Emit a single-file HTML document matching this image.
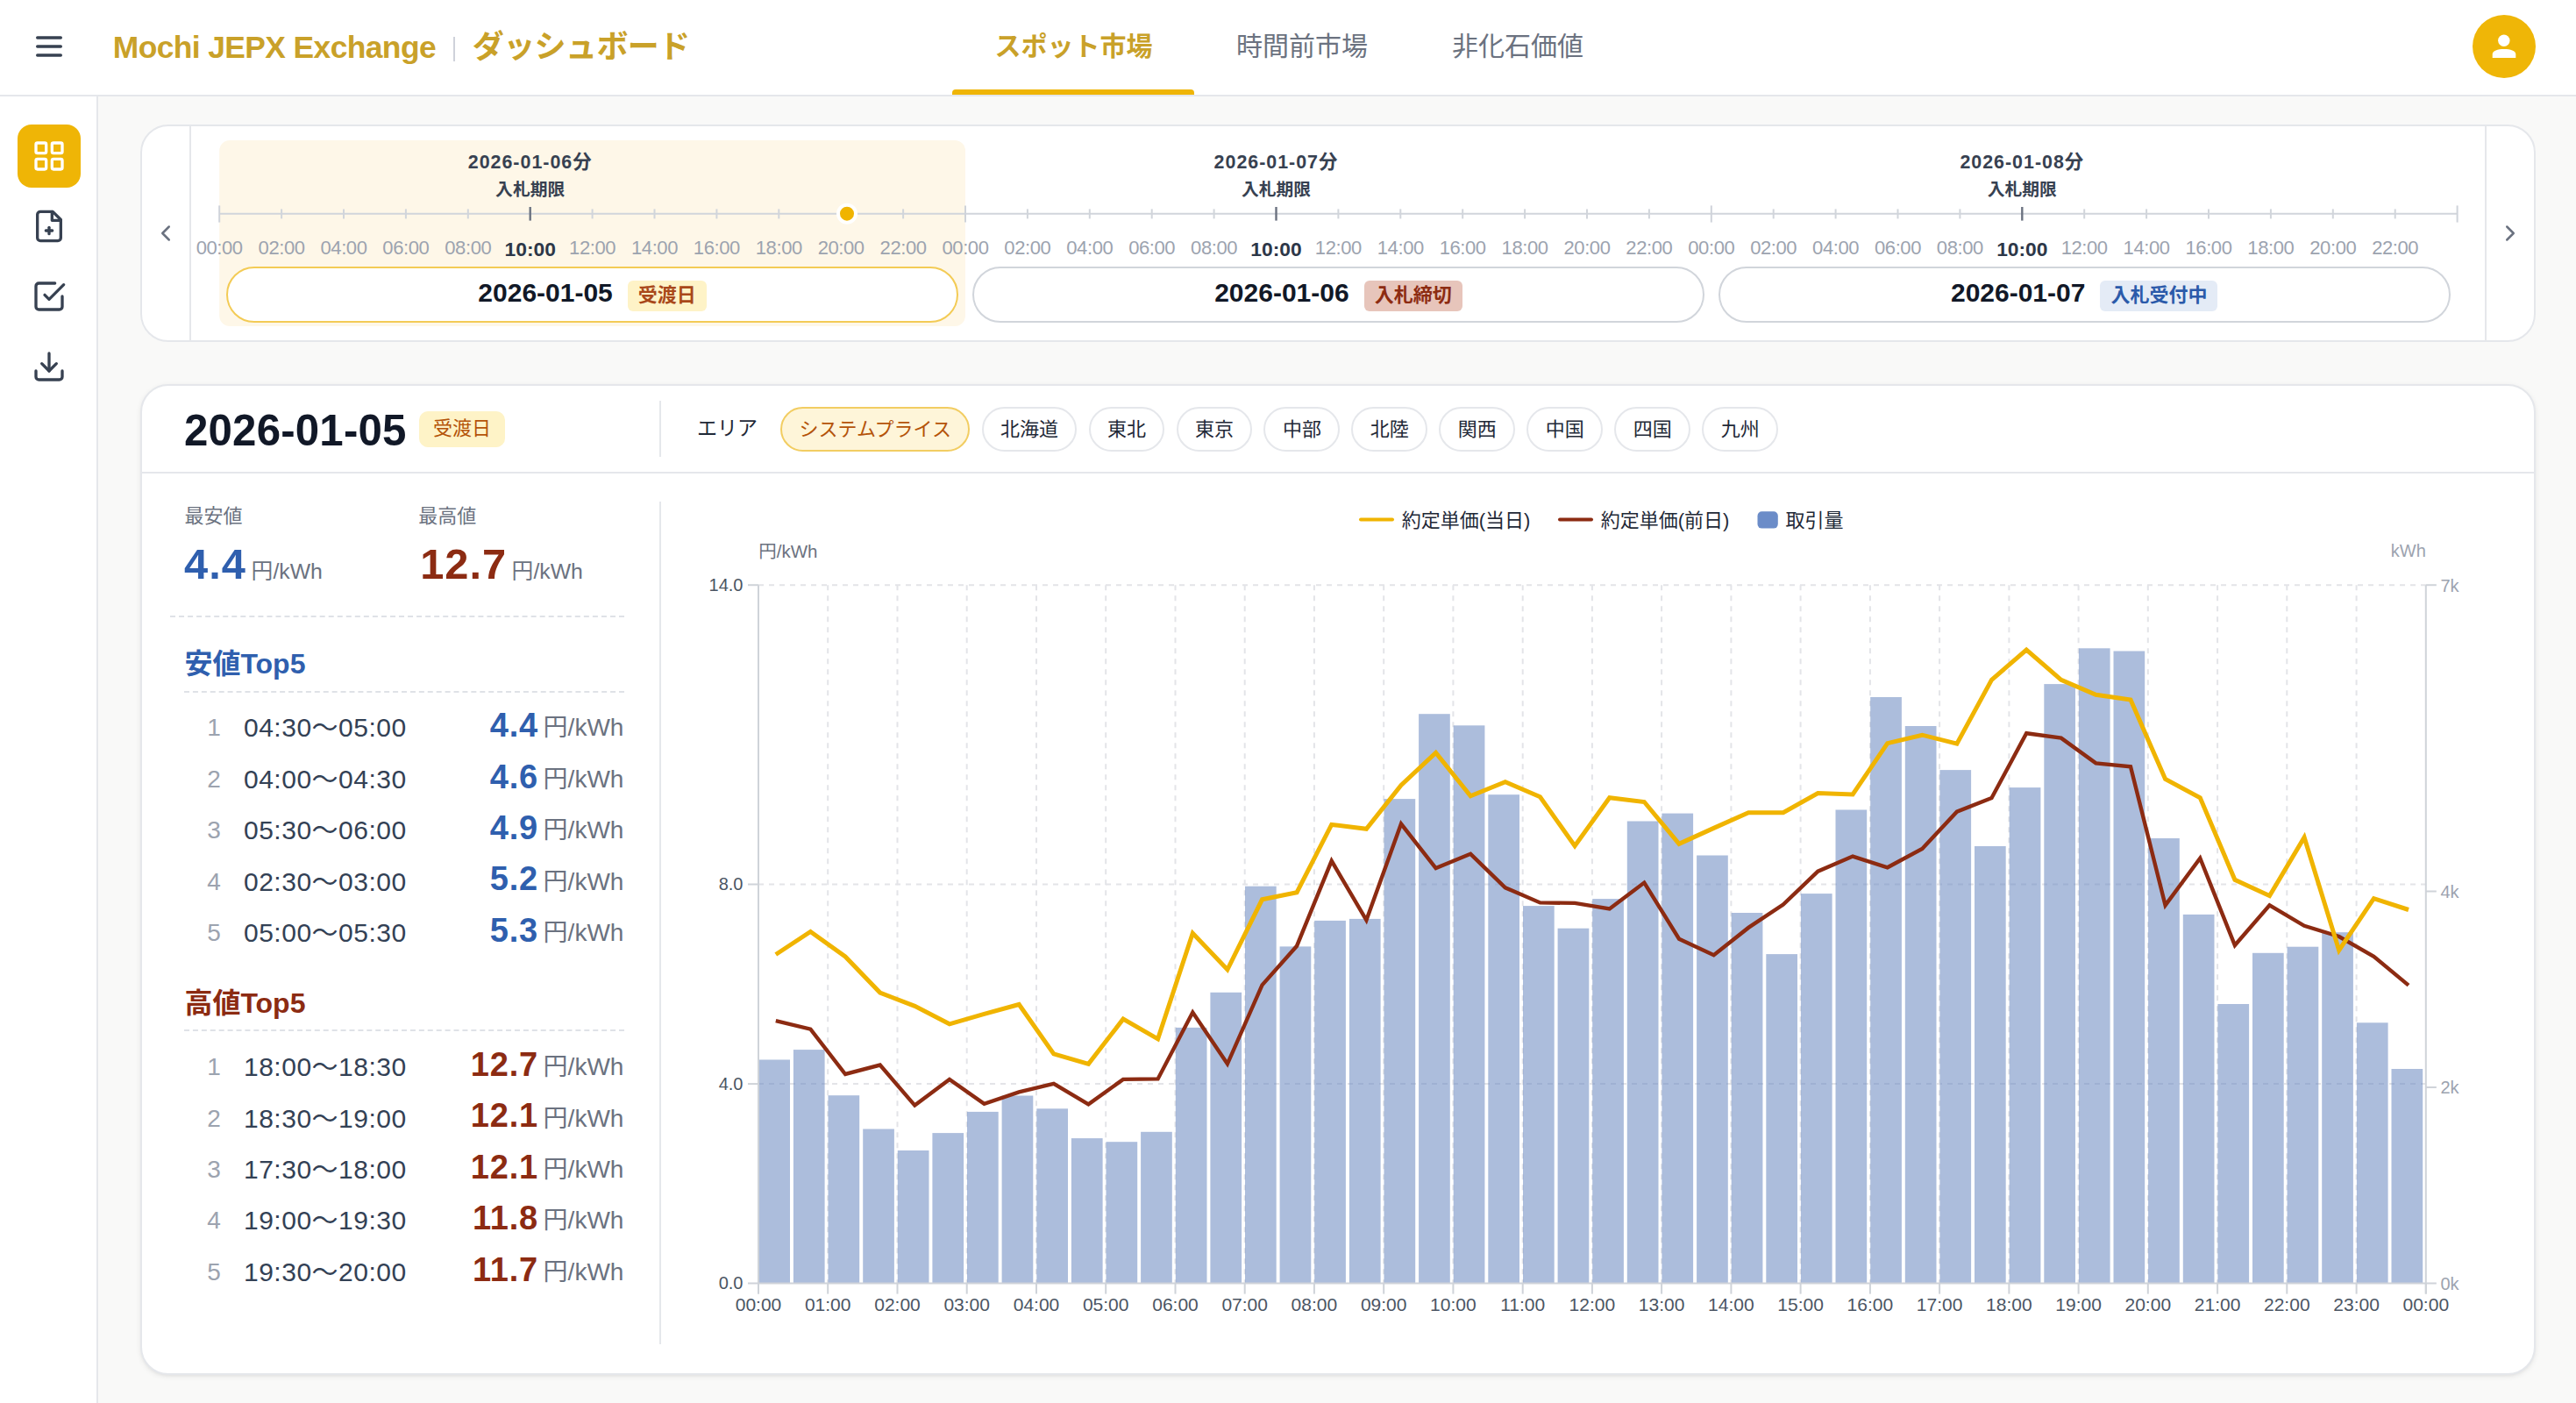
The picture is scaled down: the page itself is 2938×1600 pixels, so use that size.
<!DOCTYPE html>
<html lang="ja"><head><meta charset="utf-8"><title>Mochi JEPX Exchange | ダッシュボード</title>
<style>
*{box-sizing:border-box;margin:0;padding:0}
html,body{width:2938px;height:1600px;overflow:hidden;background:#fff}
body{font-family:"Liberation Sans", "Noto Sans CJK JP", sans-serif;color:#1f2937}
#app{zoom:2;width:1469px;height:800px;position:relative;overflow:hidden;background:#f9f9f8}
@media (max-width:2000px){html,body{width:1469px;height:800px}#app{zoom:1}}
.t{position:absolute;white-space:nowrap}
.abs{position:absolute}
header{position:absolute;left:0;top:0;width:1469px;height:55px;background:#fff;border-bottom:1px solid #e5e7eb}
.ham{position:absolute;left:18px;top:16.4px;width:20px;height:20px;color:#374151}
.sep{position:absolute;left:258.5px;top:21px;width:1px;height:14px;background:#cfd2da}
.uline{position:absolute;left:543.2px;top:51px;width:137.8px;height:3px;background:#efb506;border-radius:2px 2px 0 0}
.avatar{position:absolute;left:1410px;top:8.6px;width:36px;height:36px;border-radius:50%;background:#efb607}
aside{position:absolute;left:0;top:55px;width:56px;height:745px;background:#fff;border-right:1px solid #e5e7eb}
.sb{position:absolute;left:10px;width:36px;height:36px;border-radius:8px;color:#374151}
.sb svg{position:absolute;left:8px;top:8px;width:20px;height:20px}
.sb.on{background:#efb506;color:#fff}
.card{position:absolute;background:#fff;border:1px solid #e5e7eb;border-radius:16px}
#tl{left:80px;top:71px;width:1366px;height:124px}
#dc{left:80px;top:219px;width:1366px;height:565px;box-shadow:0 1px 3px 0 rgba(0,0,0,0.07),0 1px 2px -1px rgba(0,0,0,0.07)}
svg.tl{position:absolute;left:80px;top:71px}
.vl{position:absolute;width:1px;background:#e5e7eb}
.hl{position:absolute;height:1px;background:#e5e7eb}
.chev{position:absolute;width:15px;height:15px;color:#6b7280}
.pill{position:absolute;top:151.9px;height:32.3px;border:1px solid #d1d5db;border-radius:999px;background:#fff;display:flex;align-items:center;justify-content:center}
.pill.act{border-color:#f3cb55}
.pd{font-size:15px;font-weight:700;color:#111827;line-height:18px;position:relative;top:-1.2px}
.bdg{display:inline-block;height:17.4px;line-height:17.4px;padding:0 6px;border-radius:3px;font-size:11px;font-weight:700;margin-left:8.5px;position:relative;top:0.6px}
.bd-amber{background:#fef3c7;color:#a9481a}
.bd-red{background:#e7c5bb;color:#8d2c12}
.bd-blue{background:#e4ebf6;color:#2b5aaa}
.hbadge{position:absolute;left:239px;top:234.5px;width:49px;height:20.3px;line-height:20.3px;text-align:center;border-radius:5px;background:#fef3c7;color:#b45309;font-size:11px}
.chips{position:absolute;left:445.1px;top:231.8px;display:flex;gap:6.6px}
.chip{height:25.8px;line-height:23.8px;padding:0 9.7px;border:1px solid #e5e7eb;border-radius:999px;font-size:11px;color:#1f2937;white-space:nowrap}
.chip.on{background:#fef5d9;border-color:#f2cd62;color:#b45309}
.dash{position:absolute;height:0;border-top:1px dashed #dfe2e7}
svg.chart{position:absolute;left:377px;top:270px}
</style></head>
<body><div id="app">
<header>
<svg class="ham" viewBox="0 0 24 24" fill="none" stroke="currentColor" stroke-width="2" stroke-linecap="round" stroke-linejoin="round"><line x1="4" y1="6" x2="20" y2="6"/><line x1="4" y1="12" x2="20" y2="12"/><line x1="4" y1="18" x2="20" y2="18"/></svg>
<div class="t" style="top:15.66px;font-size:17.7px;line-height:23.01px;color:#c9a129;font-weight:700;letter-spacing:-0.3px;left:64.40px;">Mochi JEPX Exchange</div>
<div class="sep"></div>
<div class="t" style="top:15.56px;font-size:18px;line-height:23.4px;color:#c9a129;font-weight:700;letter-spacing:-0.3px;left:269.40px;">ダッシュボード</div>
<div class="t" style="top:16.65px;font-size:15px;line-height:19.5px;color:#c9a129;font-weight:700;left:542.25px;width:140px;text-align:center;">スポット市場</div>
<div class="t" style="top:16.65px;font-size:15px;line-height:19.5px;color:#6b7280;left:672.50px;width:140px;text-align:center;">時間前市場</div>
<div class="t" style="top:16.65px;font-size:15px;line-height:19.5px;color:#6b7280;left:795.50px;width:140px;text-align:center;">非化石価値</div>
<div class="uline"></div>
<div class="avatar"><svg width="36" height="36" viewBox="0 0 36 36"><circle cx="17.9" cy="14.6" r="3.35" fill="#fff"/><path d="M11.35 24.5 V22.4 C11.35 20.5 14.3 19.5 17.95 19.5 C21.6 19.5 24.65 20.5 24.65 22.4 V24.5 Z" fill="#fff"/></svg></div>
</header>
<aside>
<div class="sb on" style="top:16px"><svg viewBox="0 0 24 24" fill="none" stroke="currentColor" stroke-width="2" stroke-linecap="round" stroke-linejoin="round"><rect width="7" height="7" x="3" y="3" rx="1"/><rect width="7" height="7" x="14" y="3" rx="1"/><rect width="7" height="7" x="14" y="14" rx="1"/><rect width="7" height="7" x="3" y="14" rx="1"/></svg></div>
<div class="sb" style="top:56px"><svg viewBox="0 0 24 24" fill="none" stroke="currentColor" stroke-width="2" stroke-linecap="round" stroke-linejoin="round"><path d="M14.5 2H6a2 2 0 0 0-2 2v16a2 2 0 0 0 2 2h12a2 2 0 0 0 2-2V7.5L14.5 2z"/><polyline points="14 2 14 8 20 8"/><line x1="12" y1="17.2" x2="12" y2="12.8"/><line x1="9.8" y1="15" x2="14.2" y2="15"/></svg></div>
<div class="sb" style="top:96px"><svg viewBox="0 0 24 24" fill="none" stroke="currentColor" stroke-width="2" stroke-linecap="round" stroke-linejoin="round"><polyline points="9 11 12 14 22 4"/><path d="M21 12v7a2 2 0 0 1-2 2H5a2 2 0 0 1-2-2V5a2 2 0 0 1 2-2h11"/></svg></div>
<div class="sb" style="top:136px"><svg viewBox="0 0 24 24" fill="none" stroke="currentColor" stroke-width="2" stroke-linecap="round" stroke-linejoin="round"><path d="M21 15v4a2 2 0 0 1-2 2H5a2 2 0 0 1-2-2v-4"/><polyline points="7 10 12 15 17 10"/><line x1="12" y1="15" x2="12" y2="3"/></svg></div>
</aside>
<div class="card" id="tl"></div>
<svg class="tl" width="1366" height="124" viewBox="80 71 1366 124">
<rect x="125.10" y="80" width="425.40" height="106" rx="6" fill="#fef7e8"/>
<line x1="125.10" y1="121.85" x2="1401.30" y2="121.85" stroke="#d1d5db" stroke-width="1"/>
<line x1="125.10" y1="117.2" x2="125.10" y2="126.8" stroke="#cfd3da" stroke-width="1"/>
<line x1="160.55" y1="119.2" x2="160.55" y2="124.7" stroke="#d1d5db" stroke-width="1"/>
<line x1="196.00" y1="119.2" x2="196.00" y2="124.7" stroke="#d1d5db" stroke-width="1"/>
<line x1="231.45" y1="119.2" x2="231.45" y2="124.7" stroke="#d1d5db" stroke-width="1"/>
<line x1="266.90" y1="119.2" x2="266.90" y2="124.7" stroke="#d1d5db" stroke-width="1"/>
<line x1="302.35" y1="118" x2="302.35" y2="125.8" stroke="#6b7280" stroke-width="1.2"/>
<line x1="337.80" y1="119.2" x2="337.80" y2="124.7" stroke="#d1d5db" stroke-width="1"/>
<line x1="373.25" y1="119.2" x2="373.25" y2="124.7" stroke="#d1d5db" stroke-width="1"/>
<line x1="408.70" y1="119.2" x2="408.70" y2="124.7" stroke="#d1d5db" stroke-width="1"/>
<line x1="444.15" y1="119.2" x2="444.15" y2="124.7" stroke="#d1d5db" stroke-width="1"/>
<line x1="479.60" y1="119.2" x2="479.60" y2="124.7" stroke="#d1d5db" stroke-width="1"/>
<line x1="515.05" y1="119.2" x2="515.05" y2="124.7" stroke="#d1d5db" stroke-width="1"/>
<line x1="550.50" y1="117.2" x2="550.50" y2="126.8" stroke="#cfd3da" stroke-width="1"/>
<line x1="585.95" y1="119.2" x2="585.95" y2="124.7" stroke="#d1d5db" stroke-width="1"/>
<line x1="621.40" y1="119.2" x2="621.40" y2="124.7" stroke="#d1d5db" stroke-width="1"/>
<line x1="656.85" y1="119.2" x2="656.85" y2="124.7" stroke="#d1d5db" stroke-width="1"/>
<line x1="692.30" y1="119.2" x2="692.30" y2="124.7" stroke="#d1d5db" stroke-width="1"/>
<line x1="727.75" y1="118" x2="727.75" y2="125.8" stroke="#6b7280" stroke-width="1.2"/>
<line x1="763.20" y1="119.2" x2="763.20" y2="124.7" stroke="#d1d5db" stroke-width="1"/>
<line x1="798.65" y1="119.2" x2="798.65" y2="124.7" stroke="#d1d5db" stroke-width="1"/>
<line x1="834.10" y1="119.2" x2="834.10" y2="124.7" stroke="#d1d5db" stroke-width="1"/>
<line x1="869.55" y1="119.2" x2="869.55" y2="124.7" stroke="#d1d5db" stroke-width="1"/>
<line x1="905.00" y1="119.2" x2="905.00" y2="124.7" stroke="#d1d5db" stroke-width="1"/>
<line x1="940.45" y1="119.2" x2="940.45" y2="124.7" stroke="#d1d5db" stroke-width="1"/>
<line x1="975.90" y1="117.2" x2="975.90" y2="126.8" stroke="#cfd3da" stroke-width="1"/>
<line x1="1011.35" y1="119.2" x2="1011.35" y2="124.7" stroke="#d1d5db" stroke-width="1"/>
<line x1="1046.80" y1="119.2" x2="1046.80" y2="124.7" stroke="#d1d5db" stroke-width="1"/>
<line x1="1082.25" y1="119.2" x2="1082.25" y2="124.7" stroke="#d1d5db" stroke-width="1"/>
<line x1="1117.70" y1="119.2" x2="1117.70" y2="124.7" stroke="#d1d5db" stroke-width="1"/>
<line x1="1153.15" y1="118" x2="1153.15" y2="125.8" stroke="#6b7280" stroke-width="1.2"/>
<line x1="1188.60" y1="119.2" x2="1188.60" y2="124.7" stroke="#d1d5db" stroke-width="1"/>
<line x1="1224.05" y1="119.2" x2="1224.05" y2="124.7" stroke="#d1d5db" stroke-width="1"/>
<line x1="1259.50" y1="119.2" x2="1259.50" y2="124.7" stroke="#d1d5db" stroke-width="1"/>
<line x1="1294.95" y1="119.2" x2="1294.95" y2="124.7" stroke="#d1d5db" stroke-width="1"/>
<line x1="1330.40" y1="119.2" x2="1330.40" y2="124.7" stroke="#d1d5db" stroke-width="1"/>
<line x1="1365.85" y1="119.2" x2="1365.85" y2="124.7" stroke="#d1d5db" stroke-width="1"/>
<line x1="1401.30" y1="117.2" x2="1401.30" y2="126.8" stroke="#cfd3da" stroke-width="1"/>
<circle cx="483" cy="121.85" r="5" fill="#f0b400" stroke="#fff" stroke-width="2"/>
</svg>
<div class="vl" style="left:108px;top:72px;height:122px"></div>
<div class="vl" style="left:1417px;top:72px;height:122px"></div>
<svg class="chev" style="left:86.95px;top:125.5px" viewBox="0 0 24 24" fill="none" stroke="currentColor" stroke-width="2" stroke-linecap="round" stroke-linejoin="round"><path d="m15 18-6-6 6-6"/></svg>
<svg class="chev" style="left:1423.75px;top:125.5px" viewBox="0 0 24 24" fill="none" stroke="currentColor" stroke-width="2" stroke-linecap="round" stroke-linejoin="round"><path d="m9 18 6-6-6-6"/></svg>
<div class="t" style="top:134.39px;font-size:11px;line-height:14.3px;color:#9ca3af;letter-spacing:-0.2px;left:95.10px;width:60px;text-align:center;">00:00</div>
<div class="t" style="top:134.39px;font-size:11px;line-height:14.3px;color:#9ca3af;letter-spacing:-0.2px;left:130.55px;width:60px;text-align:center;">02:00</div>
<div class="t" style="top:134.39px;font-size:11px;line-height:14.3px;color:#9ca3af;letter-spacing:-0.2px;left:166.00px;width:60px;text-align:center;">04:00</div>
<div class="t" style="top:134.39px;font-size:11px;line-height:14.3px;color:#9ca3af;letter-spacing:-0.2px;left:201.45px;width:60px;text-align:center;">06:00</div>
<div class="t" style="top:134.39px;font-size:11px;line-height:14.3px;color:#9ca3af;letter-spacing:-0.2px;left:236.90px;width:60px;text-align:center;">08:00</div>
<div class="t" style="top:134.94px;font-size:11.4px;line-height:14.82px;color:#2d3748;font-weight:700;left:272.35px;width:60px;text-align:center;">10:00</div>
<div class="t" style="top:134.39px;font-size:11px;line-height:14.3px;color:#9ca3af;letter-spacing:-0.2px;left:307.80px;width:60px;text-align:center;">12:00</div>
<div class="t" style="top:134.39px;font-size:11px;line-height:14.3px;color:#9ca3af;letter-spacing:-0.2px;left:343.25px;width:60px;text-align:center;">14:00</div>
<div class="t" style="top:134.39px;font-size:11px;line-height:14.3px;color:#9ca3af;letter-spacing:-0.2px;left:378.70px;width:60px;text-align:center;">16:00</div>
<div class="t" style="top:134.39px;font-size:11px;line-height:14.3px;color:#9ca3af;letter-spacing:-0.2px;left:414.15px;width:60px;text-align:center;">18:00</div>
<div class="t" style="top:134.39px;font-size:11px;line-height:14.3px;color:#9ca3af;letter-spacing:-0.2px;left:449.60px;width:60px;text-align:center;">20:00</div>
<div class="t" style="top:134.39px;font-size:11px;line-height:14.3px;color:#9ca3af;letter-spacing:-0.2px;left:485.05px;width:60px;text-align:center;">22:00</div>
<div class="t" style="top:85.84px;font-size:10.7px;line-height:13.91px;color:#374151;font-weight:700;letter-spacing:0.5px;left:242.35px;width:120px;text-align:center;">2026-01-06分</div>
<div class="t" style="top:102.13px;font-size:9.9px;line-height:12.87px;color:#374151;font-weight:700;left:242.35px;width:120px;text-align:center;">入札期限</div>
<div class="t" style="top:134.39px;font-size:11px;line-height:14.3px;color:#9ca3af;letter-spacing:-0.2px;left:520.50px;width:60px;text-align:center;">00:00</div>
<div class="t" style="top:134.39px;font-size:11px;line-height:14.3px;color:#9ca3af;letter-spacing:-0.2px;left:555.95px;width:60px;text-align:center;">02:00</div>
<div class="t" style="top:134.39px;font-size:11px;line-height:14.3px;color:#9ca3af;letter-spacing:-0.2px;left:591.40px;width:60px;text-align:center;">04:00</div>
<div class="t" style="top:134.39px;font-size:11px;line-height:14.3px;color:#9ca3af;letter-spacing:-0.2px;left:626.85px;width:60px;text-align:center;">06:00</div>
<div class="t" style="top:134.39px;font-size:11px;line-height:14.3px;color:#9ca3af;letter-spacing:-0.2px;left:662.30px;width:60px;text-align:center;">08:00</div>
<div class="t" style="top:134.94px;font-size:11.4px;line-height:14.82px;color:#2d3748;font-weight:700;left:697.75px;width:60px;text-align:center;">10:00</div>
<div class="t" style="top:134.39px;font-size:11px;line-height:14.3px;color:#9ca3af;letter-spacing:-0.2px;left:733.20px;width:60px;text-align:center;">12:00</div>
<div class="t" style="top:134.39px;font-size:11px;line-height:14.3px;color:#9ca3af;letter-spacing:-0.2px;left:768.65px;width:60px;text-align:center;">14:00</div>
<div class="t" style="top:134.39px;font-size:11px;line-height:14.3px;color:#9ca3af;letter-spacing:-0.2px;left:804.10px;width:60px;text-align:center;">16:00</div>
<div class="t" style="top:134.39px;font-size:11px;line-height:14.3px;color:#9ca3af;letter-spacing:-0.2px;left:839.55px;width:60px;text-align:center;">18:00</div>
<div class="t" style="top:134.39px;font-size:11px;line-height:14.3px;color:#9ca3af;letter-spacing:-0.2px;left:875.00px;width:60px;text-align:center;">20:00</div>
<div class="t" style="top:134.39px;font-size:11px;line-height:14.3px;color:#9ca3af;letter-spacing:-0.2px;left:910.45px;width:60px;text-align:center;">22:00</div>
<div class="t" style="top:85.84px;font-size:10.7px;line-height:13.91px;color:#374151;font-weight:700;letter-spacing:0.5px;left:667.75px;width:120px;text-align:center;">2026-01-07分</div>
<div class="t" style="top:102.13px;font-size:9.9px;line-height:12.87px;color:#374151;font-weight:700;left:667.75px;width:120px;text-align:center;">入札期限</div>
<div class="t" style="top:134.39px;font-size:11px;line-height:14.3px;color:#9ca3af;letter-spacing:-0.2px;left:945.90px;width:60px;text-align:center;">00:00</div>
<div class="t" style="top:134.39px;font-size:11px;line-height:14.3px;color:#9ca3af;letter-spacing:-0.2px;left:981.35px;width:60px;text-align:center;">02:00</div>
<div class="t" style="top:134.39px;font-size:11px;line-height:14.3px;color:#9ca3af;letter-spacing:-0.2px;left:1016.80px;width:60px;text-align:center;">04:00</div>
<div class="t" style="top:134.39px;font-size:11px;line-height:14.3px;color:#9ca3af;letter-spacing:-0.2px;left:1052.25px;width:60px;text-align:center;">06:00</div>
<div class="t" style="top:134.39px;font-size:11px;line-height:14.3px;color:#9ca3af;letter-spacing:-0.2px;left:1087.70px;width:60px;text-align:center;">08:00</div>
<div class="t" style="top:134.94px;font-size:11.4px;line-height:14.82px;color:#2d3748;font-weight:700;left:1123.15px;width:60px;text-align:center;">10:00</div>
<div class="t" style="top:134.39px;font-size:11px;line-height:14.3px;color:#9ca3af;letter-spacing:-0.2px;left:1158.60px;width:60px;text-align:center;">12:00</div>
<div class="t" style="top:134.39px;font-size:11px;line-height:14.3px;color:#9ca3af;letter-spacing:-0.2px;left:1194.05px;width:60px;text-align:center;">14:00</div>
<div class="t" style="top:134.39px;font-size:11px;line-height:14.3px;color:#9ca3af;letter-spacing:-0.2px;left:1229.50px;width:60px;text-align:center;">16:00</div>
<div class="t" style="top:134.39px;font-size:11px;line-height:14.3px;color:#9ca3af;letter-spacing:-0.2px;left:1264.95px;width:60px;text-align:center;">18:00</div>
<div class="t" style="top:134.39px;font-size:11px;line-height:14.3px;color:#9ca3af;letter-spacing:-0.2px;left:1300.40px;width:60px;text-align:center;">20:00</div>
<div class="t" style="top:134.39px;font-size:11px;line-height:14.3px;color:#9ca3af;letter-spacing:-0.2px;left:1335.85px;width:60px;text-align:center;">22:00</div>
<div class="t" style="top:85.84px;font-size:10.7px;line-height:13.91px;color:#374151;font-weight:700;letter-spacing:0.5px;left:1093.15px;width:120px;text-align:center;">2026-01-08分</div>
<div class="t" style="top:102.13px;font-size:9.9px;line-height:12.87px;color:#374151;font-weight:700;left:1093.15px;width:120px;text-align:center;">入札期限</div>
<div class="pill act" style="left:129.10px;width:417.40px"><span class="pd">2026-01-05</span><span class="bdg bd-amber">受渡日</span></div>
<div class="pill" style="left:554.50px;width:417.40px"><span class="pd">2026-01-06</span><span class="bdg bd-red">入札締切</span></div>
<div class="pill" style="left:979.90px;width:417.40px"><span class="pd">2026-01-07</span><span class="bdg bd-blue">入札受付中</span></div>
<div class="card" id="dc"></div>
<div class="hl" style="left:81px;top:269px;width:1364px"></div>
<div class="t" style="top:229.48px;font-size:24.6px;line-height:31.98px;color:#111827;font-weight:700;letter-spacing:0.1px;left:105.00px;">2026-01-05</div>
<div class="hbadge">受渡日</div>
<div class="vl" style="left:376px;top:228.3px;height:32.4px"></div>
<div class="t" style="top:236.84px;font-size:11.5px;line-height:14.95px;color:#1f2937;left:397.50px;">エリア</div>
<div class="chips"><span class="chip on">システムプライス</span><span class="chip">北海道</span><span class="chip">東北</span><span class="chip">東京</span><span class="chip">中部</span><span class="chip">北陸</span><span class="chip">関西</span><span class="chip">中国</span><span class="chip">四国</span><span class="chip">九州</span></div>
<div class="vl" style="left:376px;top:286px;height:480.5px"></div>
<div class="t" style="top:287.44px;font-size:11px;line-height:14.3px;color:#6b7280;left:105.20px;">最安値</div>
<div class="t" style="top:287.44px;font-size:11px;line-height:14.3px;color:#6b7280;left:238.60px;">最高値</div>
<div class="t" style="top:306.08px;font-size:24.4px;line-height:31.72px;color:#2f5fae;font-weight:700;letter-spacing:0.5px;left:105.00px;">4.4</div>
<div class="t" style="top:318.04px;font-size:12.4px;line-height:16.12px;color:#6b7280;left:143.30px;">円/kWh</div>
<div class="t" style="top:306.08px;font-size:24.4px;line-height:31.72px;color:#8c2b12;font-weight:700;letter-spacing:0.5px;left:239.60px;">12.7</div>
<div class="t" style="top:318.04px;font-size:12.4px;line-height:16.12px;color:#6b7280;left:291.80px;">円/kWh</div>
<div class="dash" style="left:97px;width:258.75px;top:351px"></div>
<div class="t" style="top:368.70px;font-size:16px;line-height:20.8px;color:#2f5fae;font-weight:700;left:105.20px;">安値Top5</div>
<div class="dash" style="left:105px;width:250.75px;top:394px"></div>
<div class="t" style="top:406.20px;font-size:14px;line-height:18.2px;color:#9ca3af;left:112.00px;width:20px;text-align:center;">1</div>
<div class="t" style="top:405.20px;font-size:15px;line-height:19.5px;color:#334155;letter-spacing:0.25px;left:139.00px;">04:30〜05:00</div>
<div class="t" style="top:406.20px;font-size:14px;line-height:18.2px;color:#6b7280;left:295.70px;width:60px;text-align:right;">円/kWh</div>
<div class="t" style="top:401.61px;font-size:19px;line-height:24.7px;color:#2f5fae;font-weight:700;letter-spacing:0.4px;left:247.00px;width:60px;text-align:right;">4.4</div>
<div class="t" style="top:435.40px;font-size:14px;line-height:18.2px;color:#9ca3af;left:112.00px;width:20px;text-align:center;">2</div>
<div class="t" style="top:434.40px;font-size:15px;line-height:19.5px;color:#334155;letter-spacing:0.25px;left:139.00px;">04:00〜04:30</div>
<div class="t" style="top:435.40px;font-size:14px;line-height:18.2px;color:#6b7280;left:295.70px;width:60px;text-align:right;">円/kWh</div>
<div class="t" style="top:430.81px;font-size:19px;line-height:24.7px;color:#2f5fae;font-weight:700;letter-spacing:0.4px;left:247.00px;width:60px;text-align:right;">4.6</div>
<div class="t" style="top:464.60px;font-size:14px;line-height:18.2px;color:#9ca3af;left:112.00px;width:20px;text-align:center;">3</div>
<div class="t" style="top:463.60px;font-size:15px;line-height:19.5px;color:#334155;letter-spacing:0.25px;left:139.00px;">05:30〜06:00</div>
<div class="t" style="top:464.60px;font-size:14px;line-height:18.2px;color:#6b7280;left:295.70px;width:60px;text-align:right;">円/kWh</div>
<div class="t" style="top:460.01px;font-size:19px;line-height:24.7px;color:#2f5fae;font-weight:700;letter-spacing:0.4px;left:247.00px;width:60px;text-align:right;">4.9</div>
<div class="t" style="top:493.80px;font-size:14px;line-height:18.2px;color:#9ca3af;left:112.00px;width:20px;text-align:center;">4</div>
<div class="t" style="top:492.80px;font-size:15px;line-height:19.5px;color:#334155;letter-spacing:0.25px;left:139.00px;">02:30〜03:00</div>
<div class="t" style="top:493.80px;font-size:14px;line-height:18.2px;color:#6b7280;left:295.70px;width:60px;text-align:right;">円/kWh</div>
<div class="t" style="top:489.21px;font-size:19px;line-height:24.7px;color:#2f5fae;font-weight:700;letter-spacing:0.4px;left:247.00px;width:60px;text-align:right;">5.2</div>
<div class="t" style="top:523.00px;font-size:14px;line-height:18.2px;color:#9ca3af;left:112.00px;width:20px;text-align:center;">5</div>
<div class="t" style="top:522.00px;font-size:15px;line-height:19.5px;color:#334155;letter-spacing:0.25px;left:139.00px;">05:00〜05:30</div>
<div class="t" style="top:523.00px;font-size:14px;line-height:18.2px;color:#6b7280;left:295.70px;width:60px;text-align:right;">円/kWh</div>
<div class="t" style="top:518.41px;font-size:19px;line-height:24.7px;color:#2f5fae;font-weight:700;letter-spacing:0.4px;left:247.00px;width:60px;text-align:right;">5.3</div>
<div class="t" style="top:562.00px;font-size:16px;line-height:20.8px;color:#8c2b12;font-weight:700;left:105.20px;">高値Top5</div>
<div class="dash" style="left:105px;width:250.75px;top:587px"></div>
<div class="t" style="top:599.55px;font-size:14px;line-height:18.2px;color:#9ca3af;left:112.00px;width:20px;text-align:center;">1</div>
<div class="t" style="top:598.55px;font-size:15px;line-height:19.5px;color:#334155;letter-spacing:0.25px;left:139.00px;">18:00〜18:30</div>
<div class="t" style="top:599.55px;font-size:14px;line-height:18.2px;color:#6b7280;left:295.70px;width:60px;text-align:right;">円/kWh</div>
<div class="t" style="top:594.96px;font-size:19px;line-height:24.7px;color:#8c2b12;font-weight:700;letter-spacing:0.4px;left:247.00px;width:60px;text-align:right;">12.7</div>
<div class="t" style="top:628.75px;font-size:14px;line-height:18.2px;color:#9ca3af;left:112.00px;width:20px;text-align:center;">2</div>
<div class="t" style="top:627.75px;font-size:15px;line-height:19.5px;color:#334155;letter-spacing:0.25px;left:139.00px;">18:30〜19:00</div>
<div class="t" style="top:628.75px;font-size:14px;line-height:18.2px;color:#6b7280;left:295.70px;width:60px;text-align:right;">円/kWh</div>
<div class="t" style="top:624.16px;font-size:19px;line-height:24.7px;color:#8c2b12;font-weight:700;letter-spacing:0.4px;left:247.00px;width:60px;text-align:right;">12.1</div>
<div class="t" style="top:657.95px;font-size:14px;line-height:18.2px;color:#9ca3af;left:112.00px;width:20px;text-align:center;">3</div>
<div class="t" style="top:656.95px;font-size:15px;line-height:19.5px;color:#334155;letter-spacing:0.25px;left:139.00px;">17:30〜18:00</div>
<div class="t" style="top:657.95px;font-size:14px;line-height:18.2px;color:#6b7280;left:295.70px;width:60px;text-align:right;">円/kWh</div>
<div class="t" style="top:653.36px;font-size:19px;line-height:24.7px;color:#8c2b12;font-weight:700;letter-spacing:0.4px;left:247.00px;width:60px;text-align:right;">12.1</div>
<div class="t" style="top:687.15px;font-size:14px;line-height:18.2px;color:#9ca3af;left:112.00px;width:20px;text-align:center;">4</div>
<div class="t" style="top:686.15px;font-size:15px;line-height:19.5px;color:#334155;letter-spacing:0.25px;left:139.00px;">19:00〜19:30</div>
<div class="t" style="top:687.15px;font-size:14px;line-height:18.2px;color:#6b7280;left:295.70px;width:60px;text-align:right;">円/kWh</div>
<div class="t" style="top:682.56px;font-size:19px;line-height:24.7px;color:#8c2b12;font-weight:700;letter-spacing:0.4px;left:247.00px;width:60px;text-align:right;">11.8</div>
<div class="t" style="top:716.35px;font-size:14px;line-height:18.2px;color:#9ca3af;left:112.00px;width:20px;text-align:center;">5</div>
<div class="t" style="top:715.35px;font-size:15px;line-height:19.5px;color:#334155;letter-spacing:0.25px;left:139.00px;">19:30〜20:00</div>
<div class="t" style="top:716.35px;font-size:14px;line-height:18.2px;color:#6b7280;left:295.70px;width:60px;text-align:right;">円/kWh</div>
<div class="t" style="top:711.76px;font-size:19px;line-height:24.7px;color:#8c2b12;font-weight:700;letter-spacing:0.4px;left:247.00px;width:60px;text-align:right;">11.7</div>
<svg class="chart" viewBox="754 540 2136 1024" width="1068" height="512">
<line x1="865.0" y1="667.2" x2="2766.8" y2="667.2" stroke="#e3e4e8" stroke-width="2" stroke-dasharray="6 6"/>
<line x1="865.0" y1="1008.5" x2="2766.8" y2="1008.5" stroke="#e3e4e8" stroke-width="2" stroke-dasharray="6 6"/>
<line x1="865.0" y1="1236.1" x2="2766.8" y2="1236.1" stroke="#e3e4e8" stroke-width="2" stroke-dasharray="6 6"/>
<line x1="944.2" y1="667.2" x2="944.2" y2="1463.6" stroke="#e3e4e8" stroke-width="2" stroke-dasharray="6 6"/>
<line x1="1023.5" y1="667.2" x2="1023.5" y2="1463.6" stroke="#e3e4e8" stroke-width="2" stroke-dasharray="6 6"/>
<line x1="1102.7" y1="667.2" x2="1102.7" y2="1463.6" stroke="#e3e4e8" stroke-width="2" stroke-dasharray="6 6"/>
<line x1="1182.0" y1="667.2" x2="1182.0" y2="1463.6" stroke="#e3e4e8" stroke-width="2" stroke-dasharray="6 6"/>
<line x1="1261.2" y1="667.2" x2="1261.2" y2="1463.6" stroke="#e3e4e8" stroke-width="2" stroke-dasharray="6 6"/>
<line x1="1340.5" y1="667.2" x2="1340.5" y2="1463.6" stroke="#e3e4e8" stroke-width="2" stroke-dasharray="6 6"/>
<line x1="1419.7" y1="667.2" x2="1419.7" y2="1463.6" stroke="#e3e4e8" stroke-width="2" stroke-dasharray="6 6"/>
<line x1="1498.9" y1="667.2" x2="1498.9" y2="1463.6" stroke="#e3e4e8" stroke-width="2" stroke-dasharray="6 6"/>
<line x1="1578.2" y1="667.2" x2="1578.2" y2="1463.6" stroke="#e3e4e8" stroke-width="2" stroke-dasharray="6 6"/>
<line x1="1657.4" y1="667.2" x2="1657.4" y2="1463.6" stroke="#e3e4e8" stroke-width="2" stroke-dasharray="6 6"/>
<line x1="1736.7" y1="667.2" x2="1736.7" y2="1463.6" stroke="#e3e4e8" stroke-width="2" stroke-dasharray="6 6"/>
<line x1="1815.9" y1="667.2" x2="1815.9" y2="1463.6" stroke="#e3e4e8" stroke-width="2" stroke-dasharray="6 6"/>
<line x1="1895.1" y1="667.2" x2="1895.1" y2="1463.6" stroke="#e3e4e8" stroke-width="2" stroke-dasharray="6 6"/>
<line x1="1974.4" y1="667.2" x2="1974.4" y2="1463.6" stroke="#e3e4e8" stroke-width="2" stroke-dasharray="6 6"/>
<line x1="2053.6" y1="667.2" x2="2053.6" y2="1463.6" stroke="#e3e4e8" stroke-width="2" stroke-dasharray="6 6"/>
<line x1="2132.9" y1="667.2" x2="2132.9" y2="1463.6" stroke="#e3e4e8" stroke-width="2" stroke-dasharray="6 6"/>
<line x1="2212.1" y1="667.2" x2="2212.1" y2="1463.6" stroke="#e3e4e8" stroke-width="2" stroke-dasharray="6 6"/>
<line x1="2291.4" y1="667.2" x2="2291.4" y2="1463.6" stroke="#e3e4e8" stroke-width="2" stroke-dasharray="6 6"/>
<line x1="2370.6" y1="667.2" x2="2370.6" y2="1463.6" stroke="#e3e4e8" stroke-width="2" stroke-dasharray="6 6"/>
<line x1="2449.8" y1="667.2" x2="2449.8" y2="1463.6" stroke="#e3e4e8" stroke-width="2" stroke-dasharray="6 6"/>
<line x1="2529.1" y1="667.2" x2="2529.1" y2="1463.6" stroke="#e3e4e8" stroke-width="2" stroke-dasharray="6 6"/>
<line x1="2608.3" y1="667.2" x2="2608.3" y2="1463.6" stroke="#e3e4e8" stroke-width="2" stroke-dasharray="6 6"/>
<line x1="2687.6" y1="667.2" x2="2687.6" y2="1463.6" stroke="#e3e4e8" stroke-width="2" stroke-dasharray="6 6"/>
<rect x="865.3" y="1208.5" width="35.7" height="255.1" fill="#6887bf" fill-opacity="0.55"/>
<rect x="904.9" y="1197.1" width="35.7" height="266.5" fill="#6887bf" fill-opacity="0.55"/>
<rect x="944.5" y="1249.2" width="35.7" height="214.4" fill="#6887bf" fill-opacity="0.55"/>
<rect x="984.2" y="1287.5" width="35.7" height="176.1" fill="#6887bf" fill-opacity="0.55"/>
<rect x="1023.8" y="1312.0" width="35.7" height="151.6" fill="#6887bf" fill-opacity="0.55"/>
<rect x="1063.4" y="1292.1" width="35.7" height="171.5" fill="#6887bf" fill-opacity="0.55"/>
<rect x="1103.0" y="1267.9" width="35.7" height="195.7" fill="#6887bf" fill-opacity="0.55"/>
<rect x="1142.6" y="1249.5" width="35.7" height="214.1" fill="#6887bf" fill-opacity="0.55"/>
<rect x="1182.3" y="1264.3" width="35.7" height="199.3" fill="#6887bf" fill-opacity="0.55"/>
<rect x="1221.9" y="1298.1" width="35.7" height="165.5" fill="#6887bf" fill-opacity="0.55"/>
<rect x="1261.5" y="1302.2" width="35.7" height="161.4" fill="#6887bf" fill-opacity="0.55"/>
<rect x="1301.1" y="1290.8" width="35.7" height="172.8" fill="#6887bf" fill-opacity="0.55"/>
<rect x="1340.8" y="1171.9" width="35.7" height="291.7" fill="#6887bf" fill-opacity="0.55"/>
<rect x="1380.4" y="1131.8" width="35.7" height="331.8" fill="#6887bf" fill-opacity="0.55"/>
<rect x="1420.0" y="1010.7" width="35.7" height="452.9" fill="#6887bf" fill-opacity="0.55"/>
<rect x="1459.6" y="1079.4" width="35.7" height="384.2" fill="#6887bf" fill-opacity="0.55"/>
<rect x="1499.2" y="1049.9" width="35.7" height="413.7" fill="#6887bf" fill-opacity="0.55"/>
<rect x="1538.9" y="1047.9" width="35.7" height="415.7" fill="#6887bf" fill-opacity="0.55"/>
<rect x="1578.5" y="911.1" width="35.7" height="552.5" fill="#6887bf" fill-opacity="0.55"/>
<rect x="1618.1" y="814.2" width="35.7" height="649.4" fill="#6887bf" fill-opacity="0.55"/>
<rect x="1657.7" y="827.3" width="35.7" height="636.3" fill="#6887bf" fill-opacity="0.55"/>
<rect x="1697.3" y="906.2" width="35.7" height="557.4" fill="#6887bf" fill-opacity="0.55"/>
<rect x="1737.0" y="1033.1" width="35.7" height="430.5" fill="#6887bf" fill-opacity="0.55"/>
<rect x="1776.6" y="1058.7" width="35.7" height="404.9" fill="#6887bf" fill-opacity="0.55"/>
<rect x="1816.2" y="1025.1" width="35.7" height="438.5" fill="#6887bf" fill-opacity="0.55"/>
<rect x="1855.8" y="936.5" width="35.7" height="527.1" fill="#6887bf" fill-opacity="0.55"/>
<rect x="1895.4" y="927.6" width="35.7" height="536.0" fill="#6887bf" fill-opacity="0.55"/>
<rect x="1935.1" y="975.5" width="35.7" height="488.1" fill="#6887bf" fill-opacity="0.55"/>
<rect x="1974.7" y="1041.0" width="35.7" height="422.6" fill="#6887bf" fill-opacity="0.55"/>
<rect x="2014.3" y="1088.1" width="35.7" height="375.5" fill="#6887bf" fill-opacity="0.55"/>
<rect x="2053.9" y="1019.1" width="35.7" height="444.5" fill="#6887bf" fill-opacity="0.55"/>
<rect x="2093.5" y="923.5" width="35.7" height="540.1" fill="#6887bf" fill-opacity="0.55"/>
<rect x="2133.2" y="795.0" width="35.7" height="668.6" fill="#6887bf" fill-opacity="0.55"/>
<rect x="2172.8" y="828.0" width="35.7" height="635.6" fill="#6887bf" fill-opacity="0.55"/>
<rect x="2212.4" y="878.1" width="35.7" height="585.5" fill="#6887bf" fill-opacity="0.55"/>
<rect x="2252.0" y="965.0" width="35.7" height="498.6" fill="#6887bf" fill-opacity="0.55"/>
<rect x="2291.7" y="898.1" width="35.7" height="565.5" fill="#6887bf" fill-opacity="0.55"/>
<rect x="2331.3" y="780.1" width="35.7" height="683.5" fill="#6887bf" fill-opacity="0.55"/>
<rect x="2370.9" y="739.3" width="35.7" height="724.3" fill="#6887bf" fill-opacity="0.55"/>
<rect x="2410.5" y="742.5" width="35.7" height="721.1" fill="#6887bf" fill-opacity="0.55"/>
<rect x="2450.1" y="956.0" width="35.7" height="507.6" fill="#6887bf" fill-opacity="0.55"/>
<rect x="2489.8" y="1042.9" width="35.7" height="420.7" fill="#6887bf" fill-opacity="0.55"/>
<rect x="2529.4" y="1145.0" width="35.7" height="318.6" fill="#6887bf" fill-opacity="0.55"/>
<rect x="2569.0" y="1086.8" width="35.7" height="376.8" fill="#6887bf" fill-opacity="0.55"/>
<rect x="2608.6" y="1079.7" width="35.7" height="383.9" fill="#6887bf" fill-opacity="0.55"/>
<rect x="2648.2" y="1063.2" width="35.7" height="400.4" fill="#6887bf" fill-opacity="0.55"/>
<rect x="2687.9" y="1166.3" width="35.7" height="297.3" fill="#6887bf" fill-opacity="0.55"/>
<rect x="2727.5" y="1219.0" width="35.7" height="244.6" fill="#6887bf" fill-opacity="0.55"/>
<line x1="865.0" y1="667.2" x2="865.0" y2="1475.6" stroke="#cfd3d9" stroke-width="2"/>
<line x1="2766.8" y1="667.2" x2="2766.8" y2="1475.6" stroke="#cfd3d9" stroke-width="2"/>
<line x1="853.0" y1="1463.6" x2="2778.8" y2="1463.6" stroke="#cfd3d9" stroke-width="2"/>
<line x1="853.0" y1="667.2" x2="865.0" y2="667.2" stroke="#cfd3d9" stroke-width="2"/>
<line x1="853.0" y1="1008.5" x2="865.0" y2="1008.5" stroke="#cfd3d9" stroke-width="2"/>
<line x1="853.0" y1="1236.1" x2="865.0" y2="1236.1" stroke="#cfd3d9" stroke-width="2"/>
<line x1="2766.8" y1="667.2" x2="2778.8" y2="667.2" stroke="#cfd3d9" stroke-width="2"/>
<line x1="2766.8" y1="1016.5" x2="2778.8" y2="1016.5" stroke="#cfd3d9" stroke-width="2"/>
<line x1="2766.8" y1="1240.0" x2="2778.8" y2="1240.0" stroke="#cfd3d9" stroke-width="2"/>
<line x1="865.0" y1="1463.6" x2="865.0" y2="1475.6" stroke="#cfd3d9" stroke-width="2"/>
<line x1="944.2" y1="1463.6" x2="944.2" y2="1475.6" stroke="#cfd3d9" stroke-width="2"/>
<line x1="1023.5" y1="1463.6" x2="1023.5" y2="1475.6" stroke="#cfd3d9" stroke-width="2"/>
<line x1="1102.7" y1="1463.6" x2="1102.7" y2="1475.6" stroke="#cfd3d9" stroke-width="2"/>
<line x1="1182.0" y1="1463.6" x2="1182.0" y2="1475.6" stroke="#cfd3d9" stroke-width="2"/>
<line x1="1261.2" y1="1463.6" x2="1261.2" y2="1475.6" stroke="#cfd3d9" stroke-width="2"/>
<line x1="1340.5" y1="1463.6" x2="1340.5" y2="1475.6" stroke="#cfd3d9" stroke-width="2"/>
<line x1="1419.7" y1="1463.6" x2="1419.7" y2="1475.6" stroke="#cfd3d9" stroke-width="2"/>
<line x1="1498.9" y1="1463.6" x2="1498.9" y2="1475.6" stroke="#cfd3d9" stroke-width="2"/>
<line x1="1578.2" y1="1463.6" x2="1578.2" y2="1475.6" stroke="#cfd3d9" stroke-width="2"/>
<line x1="1657.4" y1="1463.6" x2="1657.4" y2="1475.6" stroke="#cfd3d9" stroke-width="2"/>
<line x1="1736.7" y1="1463.6" x2="1736.7" y2="1475.6" stroke="#cfd3d9" stroke-width="2"/>
<line x1="1815.9" y1="1463.6" x2="1815.9" y2="1475.6" stroke="#cfd3d9" stroke-width="2"/>
<line x1="1895.1" y1="1463.6" x2="1895.1" y2="1475.6" stroke="#cfd3d9" stroke-width="2"/>
<line x1="1974.4" y1="1463.6" x2="1974.4" y2="1475.6" stroke="#cfd3d9" stroke-width="2"/>
<line x1="2053.6" y1="1463.6" x2="2053.6" y2="1475.6" stroke="#cfd3d9" stroke-width="2"/>
<line x1="2132.9" y1="1463.6" x2="2132.9" y2="1475.6" stroke="#cfd3d9" stroke-width="2"/>
<line x1="2212.1" y1="1463.6" x2="2212.1" y2="1475.6" stroke="#cfd3d9" stroke-width="2"/>
<line x1="2291.4" y1="1463.6" x2="2291.4" y2="1475.6" stroke="#cfd3d9" stroke-width="2"/>
<line x1="2370.6" y1="1463.6" x2="2370.6" y2="1475.6" stroke="#cfd3d9" stroke-width="2"/>
<line x1="2449.8" y1="1463.6" x2="2449.8" y2="1475.6" stroke="#cfd3d9" stroke-width="2"/>
<line x1="2529.1" y1="1463.6" x2="2529.1" y2="1475.6" stroke="#cfd3d9" stroke-width="2"/>
<line x1="2608.3" y1="1463.6" x2="2608.3" y2="1475.6" stroke="#cfd3d9" stroke-width="2"/>
<line x1="2687.6" y1="1463.6" x2="2687.6" y2="1475.6" stroke="#cfd3d9" stroke-width="2"/>
<line x1="2766.8" y1="1463.6" x2="2766.8" y2="1475.6" stroke="#cfd3d9" stroke-width="2"/>
<polyline points="884.8,1164.1 924.4,1173.6 964.1,1225.0 1003.7,1214.5 1043.3,1260.6 1082.9,1231.0 1122.5,1258.9 1162.2,1245.3 1201.8,1235.8 1241.4,1259.4 1281.0,1230.9 1320.6,1230.4 1360.3,1154.5 1399.9,1213.3 1439.5,1123.4 1479.1,1078.7 1518.7,981.8 1558.4,1049.3 1598.0,939.6 1637.6,990.0 1677.2,973.8 1716.8,1012.3 1756.5,1029.4 1796.1,1029.9 1835.7,1036.5 1875.3,1006.6 1915.0,1070.7 1954.6,1089.2 1994.2,1057.9 2033.8,1031.6 2073.4,993.7 2113.1,976.6 2152.7,989.3 2192.3,967.9 2231.9,925.7 2271.5,910.0 2311.2,836.2 2350.8,841.6 2390.4,870.4 2430.0,874.4 2469.6,1032.4 2509.3,978.8 2548.9,1078.0 2588.5,1032.4 2628.1,1055.8 2667.7,1068.0 2707.4,1090.8 2747.0,1123.6" fill="none" stroke="#8c2b12" stroke-width="4.4" stroke-linejoin="miter" stroke-miterlimit="10"/>
<polyline points="884.8,1088.5 924.4,1062.5 964.1,1090.9 1003.7,1132.1 1043.3,1147.4 1082.9,1167.8 1122.5,1156.4 1162.2,1145.5 1201.8,1201.9 1241.4,1213.3 1281.0,1162.1 1320.6,1184.9 1360.3,1064.3 1399.9,1105.8 1439.5,1025.8 1479.1,1017.7 1518.7,940.4 1558.4,945.3 1598.0,895.4 1637.6,858.4 1677.2,907.7 1716.8,891.7 1756.5,908.8 1796.1,964.7 1835.7,909.7 1875.3,914.5 1915.0,962.4 1954.6,944.4 1994.2,926.8 2033.8,926.8 2073.4,904.5 2113.1,906.0 2152.7,847.6 2192.3,838.2 2231.9,848.2 2271.5,775.3 2311.2,741.1 2350.8,775.3 2390.4,792.3 2430.0,798.0 2469.6,888.5 2509.3,909.8 2548.9,1003.3 2588.5,1021.6 2628.1,954.9 2667.7,1083.7 2707.4,1024.7 2747.0,1037.5" fill="none" stroke="#f0b400" stroke-width="5" stroke-linejoin="miter" stroke-miterlimit="10"/>
<text x="847.5" y="673.7" text-anchor="end" font-size="20" fill="#4b5563" style="font-family:'Liberation Sans', 'Noto Sans CJK JP', sans-serif">14.0</text>
<text x="847.5" y="1015.0" text-anchor="end" font-size="20" fill="#4b5563" style="font-family:'Liberation Sans', 'Noto Sans CJK JP', sans-serif">8.0</text>
<text x="847.5" y="1242.6" text-anchor="end" font-size="20" fill="#4b5563" style="font-family:'Liberation Sans', 'Noto Sans CJK JP', sans-serif">4.0</text>
<text x="847.5" y="1470.1" text-anchor="end" font-size="20" fill="#4b5563" style="font-family:'Liberation Sans', 'Noto Sans CJK JP', sans-serif">0.0</text>
<text x="2783.5" y="674.5" font-size="20" fill="#9ca3af" style="font-family:'Liberation Sans', 'Noto Sans CJK JP', sans-serif">7k</text>
<text x="2783.5" y="1023.8" font-size="20" fill="#9ca3af" style="font-family:'Liberation Sans', 'Noto Sans CJK JP', sans-serif">4k</text>
<text x="2783.5" y="1247.3" font-size="20" fill="#9ca3af" style="font-family:'Liberation Sans', 'Noto Sans CJK JP', sans-serif">2k</text>
<text x="2783.5" y="1470.9" font-size="20" fill="#9ca3af" style="font-family:'Liberation Sans', 'Noto Sans CJK JP', sans-serif">0k</text>
<text x="865.0" y="1495" text-anchor="middle" font-size="21" fill="#4b5563" style="font-family:'Liberation Sans', 'Noto Sans CJK JP', sans-serif">00:00</text>
<text x="944.2" y="1495" text-anchor="middle" font-size="21" fill="#4b5563" style="font-family:'Liberation Sans', 'Noto Sans CJK JP', sans-serif">01:00</text>
<text x="1023.5" y="1495" text-anchor="middle" font-size="21" fill="#4b5563" style="font-family:'Liberation Sans', 'Noto Sans CJK JP', sans-serif">02:00</text>
<text x="1102.7" y="1495" text-anchor="middle" font-size="21" fill="#4b5563" style="font-family:'Liberation Sans', 'Noto Sans CJK JP', sans-serif">03:00</text>
<text x="1182.0" y="1495" text-anchor="middle" font-size="21" fill="#4b5563" style="font-family:'Liberation Sans', 'Noto Sans CJK JP', sans-serif">04:00</text>
<text x="1261.2" y="1495" text-anchor="middle" font-size="21" fill="#4b5563" style="font-family:'Liberation Sans', 'Noto Sans CJK JP', sans-serif">05:00</text>
<text x="1340.5" y="1495" text-anchor="middle" font-size="21" fill="#4b5563" style="font-family:'Liberation Sans', 'Noto Sans CJK JP', sans-serif">06:00</text>
<text x="1419.7" y="1495" text-anchor="middle" font-size="21" fill="#4b5563" style="font-family:'Liberation Sans', 'Noto Sans CJK JP', sans-serif">07:00</text>
<text x="1498.9" y="1495" text-anchor="middle" font-size="21" fill="#4b5563" style="font-family:'Liberation Sans', 'Noto Sans CJK JP', sans-serif">08:00</text>
<text x="1578.2" y="1495" text-anchor="middle" font-size="21" fill="#4b5563" style="font-family:'Liberation Sans', 'Noto Sans CJK JP', sans-serif">09:00</text>
<text x="1657.4" y="1495" text-anchor="middle" font-size="21" fill="#4b5563" style="font-family:'Liberation Sans', 'Noto Sans CJK JP', sans-serif">10:00</text>
<text x="1736.7" y="1495" text-anchor="middle" font-size="21" fill="#4b5563" style="font-family:'Liberation Sans', 'Noto Sans CJK JP', sans-serif">11:00</text>
<text x="1815.9" y="1495" text-anchor="middle" font-size="21" fill="#4b5563" style="font-family:'Liberation Sans', 'Noto Sans CJK JP', sans-serif">12:00</text>
<text x="1895.1" y="1495" text-anchor="middle" font-size="21" fill="#4b5563" style="font-family:'Liberation Sans', 'Noto Sans CJK JP', sans-serif">13:00</text>
<text x="1974.4" y="1495" text-anchor="middle" font-size="21" fill="#4b5563" style="font-family:'Liberation Sans', 'Noto Sans CJK JP', sans-serif">14:00</text>
<text x="2053.6" y="1495" text-anchor="middle" font-size="21" fill="#4b5563" style="font-family:'Liberation Sans', 'Noto Sans CJK JP', sans-serif">15:00</text>
<text x="2132.9" y="1495" text-anchor="middle" font-size="21" fill="#4b5563" style="font-family:'Liberation Sans', 'Noto Sans CJK JP', sans-serif">16:00</text>
<text x="2212.1" y="1495" text-anchor="middle" font-size="21" fill="#4b5563" style="font-family:'Liberation Sans', 'Noto Sans CJK JP', sans-serif">17:00</text>
<text x="2291.4" y="1495" text-anchor="middle" font-size="21" fill="#4b5563" style="font-family:'Liberation Sans', 'Noto Sans CJK JP', sans-serif">18:00</text>
<text x="2370.6" y="1495" text-anchor="middle" font-size="21" fill="#4b5563" style="font-family:'Liberation Sans', 'Noto Sans CJK JP', sans-serif">19:00</text>
<text x="2449.8" y="1495" text-anchor="middle" font-size="21" fill="#4b5563" style="font-family:'Liberation Sans', 'Noto Sans CJK JP', sans-serif">20:00</text>
<text x="2529.1" y="1495" text-anchor="middle" font-size="21" fill="#4b5563" style="font-family:'Liberation Sans', 'Noto Sans CJK JP', sans-serif">21:00</text>
<text x="2608.3" y="1495" text-anchor="middle" font-size="21" fill="#4b5563" style="font-family:'Liberation Sans', 'Noto Sans CJK JP', sans-serif">22:00</text>
<text x="2687.6" y="1495" text-anchor="middle" font-size="21" fill="#4b5563" style="font-family:'Liberation Sans', 'Noto Sans CJK JP', sans-serif">23:00</text>
<text x="2766.8" y="1495" text-anchor="middle" font-size="21" fill="#4b5563" style="font-family:'Liberation Sans', 'Noto Sans CJK JP', sans-serif">00:00</text>
<text x="865.3" y="635.5" font-size="20.5" fill="#6b7280" style="font-family:'Liberation Sans', 'Noto Sans CJK JP', sans-serif">円/kWh</text>
<text x="2766.8" y="635.3" text-anchor="end" font-size="20" fill="#9ca3af" style="font-family:'Liberation Sans', 'Noto Sans CJK JP', sans-serif">kWh</text>
<line x1="1552" y1="592.6" x2="1588" y2="592.6" stroke="#f0b400" stroke-width="4" stroke-linecap="round"/>
<text x="1598.7" y="600.5" font-size="22" fill="#1f2937" style="font-family:'Liberation Sans', 'Noto Sans CJK JP', sans-serif">約定単価(当日)</text>
<line x1="1779" y1="592.6" x2="1815" y2="592.6" stroke="#8c2b12" stroke-width="4" stroke-linecap="round"/>
<text x="1825.8" y="600.5" font-size="22" fill="#1f2937" style="font-family:'Liberation Sans', 'Noto Sans CJK JP', sans-serif">約定単価(前日)</text>
<rect x="2004.5" y="583.3" width="23.3" height="19.3" rx="5" fill="#6b8cc8"/>
<text x="2036.6" y="600.5" font-size="22" fill="#1f2937" style="font-family:'Liberation Sans', 'Noto Sans CJK JP', sans-serif">取引量</text>
</svg>
</div></body></html>
